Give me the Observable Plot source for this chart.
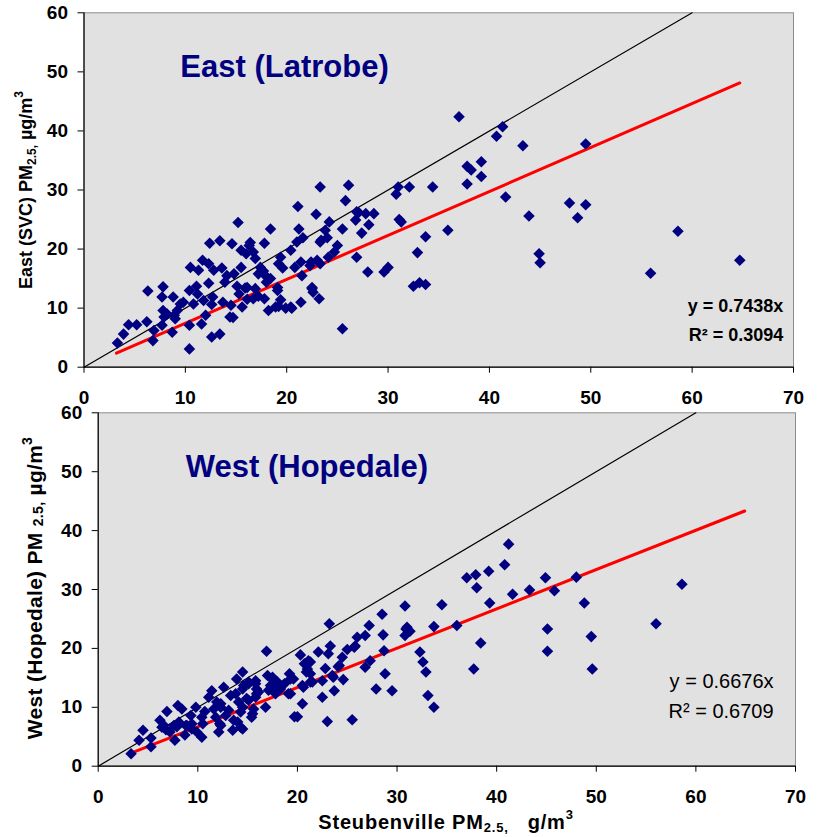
<!DOCTYPE html>
<html><head><meta charset="utf-8">
<script src="https://cdn.jsdelivr.net/npm/d3@7"></script>
<script src="https://cdn.jsdelivr.net/npm/@observablehq/plot@0.6"></script>
<style>
body{margin:0;background:#fff;font-family:"Liberation Sans",Arial,sans-serif;}
#wrap{position:relative;width:817px;height:837px;overflow:hidden;}
#wrap svg{position:absolute;left:0;overflow:visible;}
</style></head><body><div id="wrap"></div>
<script>
const xTicks = [0,10,20,30,40,50,60,70];
const yTicks = [0,10,20,30,40,50,60];

const eastX = [3.3,3.9,4.4,5.2,6.2,6.3,6.8,6.9,7.8,7.7,7.8,7.9,7.7,8.2,8.8,8.7,8.9,9.2,9.0,9.5,9.8,10.5,10.4,10.4,10.4,10.8,11.1,11.2,11.3,11.7,11.6,11.8,12.0,12.3,12.3,12.4,12.6,12.7,12.6,12.8,13.4,13.4,13.6,13.7,13.9,14.1,14.4,14.5,14.6,14.8,14.7,15.2,15.1,15.3,15.5,15.5,15.6,15.9,16.0,16.3,16.1,16.7,16.7,16.9,16.9,17.2,17.2,17.7,17.8,17.8,18.0,18.2,18.4,18.4,19.1,19.2,19.4,19.2,19.4,19.9,19.6,20.4,20.5,20.8,21.1,21.2,21.0,21.4,21.4,21.5,21.6,22.4,22.5,22.6,22.9,23.2,23.3,23.3,23.4,23.8,24.2,24.0,24.7,25.0,25.5,25.5,25.8,26.1,26.8,26.9,27.1,26.9,27.4,27.8,28.0,28.1,28.6,29.6,30.0,30.8,31.0,31.1,31.3,32.1,
34.4,37.0,40.7,41.3,43.3,49.5,37.8,38.2,39.2,39.2,37.8,41.6,47.9,49.5,48.7,43.9,35.9,33.7,32.9,44.9,45.0,32.5,33.1,33.7,55.9,58.6,64.7,
16.4,22.3,23.0,24.1,17.4,17.9,16.1,19.1,22.5,20.4,18.9,23.3];
const eastY = [4.1,5.6,7.2,7.2,7.7,12.9,4.5,6.2,13.6,11.9,9.6,8.5,7.1,9.0,11.9,5.9,8.8,9.6,8.2,10.7,11.0,16.9,13.0,7.1,3.1,10.7,13.7,12.4,16.4,18.1,7.3,11.3,8.8,17.5,14.2,21.0,5.1,11.9,10.6,16.4,21.4,5.6,16.8,11.0,14.4,15.5,8.5,10.5,20.9,15.8,8.4,24.5,13.7,12.4,16.9,19.8,10.2,13.4,19.2,20.6,11.5,19.5,11.6,13.3,18.4,15.8,12.0,16.3,21.0,11.6,14.4,9.6,23.4,15.0,13.0,17.5,18.6,10.3,11.4,10.0,16.8,19.8,10.0,16.9,27.2,23.4,21.2,17.8,11.0,15.5,21.9,17.8,13.3,12.7,25.9,11.6,30.5,17.5,21.5,23.2,24.6,21.9,19.5,20.6,6.5,23.4,28.2,30.8,24.9,26.3,26.2,18.6,22.7,26.0,16.1,24.1,26.0,16.1,16.9,29.3,30.5,25.0,24.6,30.5,
30.5,42.4,39.1,40.7,37.5,37.8,34.0,33.4,34.8,32.3,31.0,28.8,27.8,27.5,25.3,25.6,23.2,22.1,19.4,19.2,17.7,13.7,14.3,14.0,15.9,23.0,18.1,
21.1,17.2,18.1,18.6,16.9,15.5,13.5,13.5,13.5,10.2,10.2,21.2];

const westX = [3.3,4.1,4.5,5.3,5.3,6.2,6.6,6.9,6.8,7.2,7.7,7.9,8.0,8.4,8.7,8.9,9.3,9.4,9.8,9.9,10.4,10.4,10.7,11.1,11.4,11.6,11.9,12.1,12.2,12.3,12.6,12.8,13.3,13.6,13.9,14.1,14.3,14.5,14.5,14.6,14.9,15.1,15.4,15.6,15.8,15.9,15.9,16.9,16.8,17.0,17.3,17.6,17.8,18.3,18.7,19.2,19.3,19.6,19.7,20.0,20.5,20.3,20.5,20.7,20.9,21.3,21.3,22.1,22.5,22.5,22.8,23.0,23.2,23.3,23.1,23.6,23.7,24.1,24.5,24.6,25.0,25.5,25.8,26.0,26.8,27.2,26.8,27.3,27.9,28.5,28.6,28.7,28.8,29.5,30.8,30.9,30.8,
31.3,32.3,32.6,32.9,33.1,33.7,33.7,34.5,36.0,37.0,37.9,38.0,39.2,39.3,37.7,38.4,40.8,41.2,41.6,43.3,44.9,45.8,45.1,45.1,48.0,48.8,49.5,49.6,56.0,58.6,
8.1,9.4,10.5,12.3,11.8,12.3,13.1,13.8,14.3,13.5,7.6,8.8,6.4,
21.1,21.0,21.3,25.7,24.2,23.5,19.3,17.5,18.0,18.3,15.8,15.1,14.5,16.1,17.1,17.8,19.1,20.6,21.5,15.8,15.1,14.5,15.5,14.0,31.0];
const westY = [2.1,4.4,6.1,3.3,4.8,7.8,6.9,9.3,6.2,5.8,4.4,6.7,10.3,9.7,5.3,6.9,8.6,6.3,10.0,5.8,4.9,8.3,9.3,11.7,12.8,9.7,10.9,5.8,7.2,10.6,13.4,8.6,12.0,7.8,14.8,10.9,9.2,16.0,6.3,13.7,11.5,14.0,8.3,9.7,14.5,13.1,12.3,19.5,10.0,15.4,13.7,14.5,13.4,13.1,14.0,15.7,12.3,14.8,8.4,8.4,10.6,18.9,13.7,17.4,16.0,14.3,17.7,19.4,11.7,14.5,16.6,7.6,24.2,20.4,19.1,15.1,12.8,16.9,18.5,14.7,19.8,7.9,20.4,21.9,22.2,23.9,16.8,17.9,13.1,25.8,22.3,19.6,15.7,12.8,27.2,23.3,22.2,
22.9,19.4,17.7,16.0,12.0,10.0,23.7,27.4,23.9,32.0,32.5,30.3,33.1,27.7,16.5,20.9,34.2,37.7,29.2,29.9,32.0,29.8,23.3,19.5,32.1,27.7,22.0,16.5,24.2,30.9,
7.5,7.2,7.2,10.0,8.3,6.9,9.5,12.3,6.6,6.1,6.9,6.9,6.6,
17.9,16.5,15.7,20.2,17.1,15.4,14.8,15.1,14.3,13.7,14.0,14.3,13.1,12.6,12.9,12.3,12.3,13.4,14.3,11.7,11.2,10.0,8.9,7.5,23.6];

const slopes = [0.7438, 0.6676];
const rSquared = [0.3094, 0.6709];
const fitRanges = [[3.2, 64.7], [3.3, 64.9]];
const titles = ["East (Latrobe)", "West (Hopedale)"];
const eastYLabel = ["East (SVC) PM", "2.5,", " \u00b5g/m", "3"];
const westYLabel = ["West (Hopedale) PM ", "2.5,", " \u00b5g/m", "3"];
const xLabel = ["Steubenville PM", "2.5,", "   g/m", "3"];

const FONT = "Liberation Sans, Arial, sans-serif";
const NAVY = "#000080";

function panel(o) {
  const pts = o.xs.map((x, i) => ({x, y: o.ys[i]}));
  const fit = o.range.map(x => ({x, y: o.slope * x}));
  const diag = [{x: 0, y: 0}, {x: 60, y: 60}];
  const eq = [`y = ${o.slope.toFixed(4)}x`, `R\u00b2 = ${o.r2.toFixed(4)}`];
  return Plot.plot({
    width: 817, height: o.height,
    marginLeft: o.ml, marginRight: o.mr, marginTop: o.mt, marginBottom: o.mb,
    x: {domain: [0, 70]}, y: {domain: [0, 60]},
    style: {background: "transparent", overflow: "visible", fontFamily: FONT, fontSize: "19px", fontWeight: "bold", color: "black"},
    marks: [
      Plot.frame({fill: "#e1e1e1", stroke: "#8c8c8c"}),
      Plot.line(diag, {x: "x", y: "y", stroke: "black", strokeWidth: 1.2}),
      Plot.line(fit, {x: "x", y: "y", stroke: "#ff0000", strokeWidth: 3}),
      Plot.dot(pts, {x: "x", y: "y", symbol: "diamond2", r: 5.2, fill: NAVY, stroke: "none"}),
      Plot.ruleX([0], {stroke: "black", strokeWidth: 1.2}),
      Plot.ruleY([0], {stroke: "black", strokeWidth: 1.2}),
      Plot.axisX({ticks: xTicks, tickSize: 6, tickPadding: 17, fontSize: 19, fontWeight: "bold", label: null}),
      Plot.axisY({ticks: yTicks, tickSize: 6, tickPadding: 10, fontSize: 19, fontWeight: "bold", label: null}),
      Plot.text([o.title], {x: o.tx, y: o.ty, text: d => d, textAnchor: "start", lineAnchor: "bottom", fontSize: 31, fontWeight: "bold", fill: NAVY}),
      Plot.text(eq, {x: o.ex, y: (d, i) => o.ey[i], text: d => d, textAnchor: "end", lineAnchor: "bottom", fontSize: o.eqSize, fontWeight: o.eqWeight, fill: "black"})
    ]
  });
}

function label(svg, transform, parts, size, spacing, subDy, supDy) {
  const t = d3.select(svg).append("text")
    .attr("transform", transform).attr("text-anchor", "middle")
    .attr("font-family", FONT).attr("font-size", size).attr("font-weight", "bold")
    .attr("letter-spacing", spacing).attr("fill", "black");
  t.append("tspan").text(parts[0]);
  t.append("tspan").attr("font-size", Math.round(size * 0.66)).attr("dy", subDy).text(parts[1]);
  t.append("tspan").attr("dy", -subDy).text(parts[2]);
  t.append("tspan").attr("font-size", Math.round(size * 0.66)).attr("dy", supDy).text(parts[3]);
}

const wrap = document.getElementById("wrap");

const chartTop = panel({xs: eastX, ys: eastY, slope: slopes[0], r2: rSquared[0], range: fitRanges[0],
  title: titles[0], tx: 9.5, ty: 49.1, ex: 69.0, ey: [9.3, 4.5], eqSize: 18, eqWeight: "bold",
  height: 410, ml: 83.5, mr: 24, mt: 12.3, mb: 43.3});
chartTop.style.top = "0px";
wrap.appendChild(chartTop);
label(chartTop, "translate(32,190) rotate(-90)", eastYLabel, 18, 0, 4, -9);

const chartBot = panel({xs: westX, ys: westY, slope: slopes[1], r2: rSquared[1], range: fitRanges[1],
  title: titles[1], tx: 8.8, ty: 49.1, ex: 67.8, ey: [13.2, 8.1], eqSize: 20, eqWeight: "normal",
  height: 437, ml: 97.7, mr: 22, mt: 12.3, mb: 71.3});
chartBot.style.top = "400px";
wrap.appendChild(chartBot);
label(chartBot, "translate(41.5,188) rotate(-90)", westYLabel, 21, 0.3, 1, -10);
label(chartBot, "translate(446,429)", xLabel, 20, 0.8, 3, -10);
</script></body></html>
